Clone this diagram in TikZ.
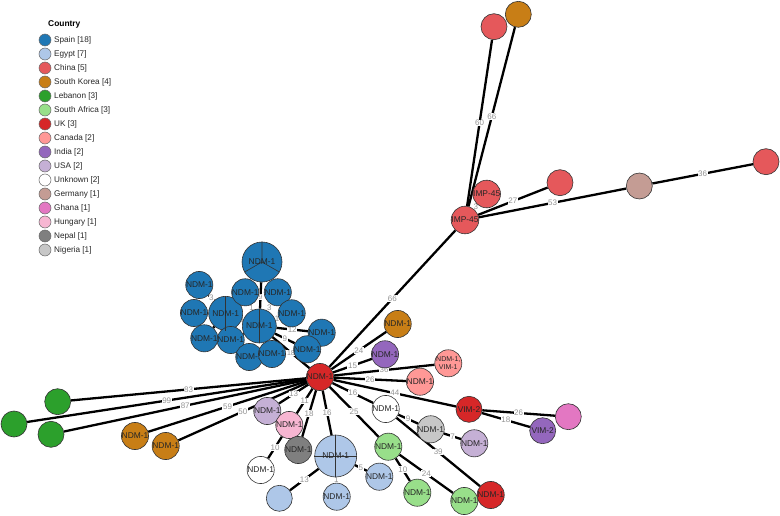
\documentclass[tikz,border=0pt]{standalone}
\usepackage{fontspec}
\setmainfont{Liberation Sans}
\definecolor{spain}{HTML}{1F77B4}
\definecolor{egypt}{HTML}{AEC7E8}
\definecolor{china}{HTML}{E5585B}
\definecolor{korea}{HTML}{C87E16}
\definecolor{lebanon}{HTML}{2CA02C}
\definecolor{safrica}{HTML}{98DF8A}
\definecolor{uk}{HTML}{D62728}
\definecolor{canada}{HTML}{FF9896}
\definecolor{india}{HTML}{9467BD}
\definecolor{usa}{HTML}{C5B0D5}
\definecolor{unknown}{HTML}{FFFFFF}
\definecolor{germany}{HTML}{C49C94}
\definecolor{ghana}{HTML}{E377C2}
\definecolor{hungary}{HTML}{F7B6D2}
\definecolor{nepal}{HTML}{7F7F7F}
\definecolor{nigeria}{HTML}{C7C7C7}
\pgfdeclarelayer{bg}
\pgfsetlayers{bg,main}
\tikzset{
  nd/.style={circle, draw=black!80, line width=0.6pt, minimum size=26pt, inner sep=0pt,
    font=\fontsize{8.4}{9}\selectfont, text=black!85},
  big/.style={minimum size=34pt},
  edg/.style={line width=2.3pt, black},
  lbl/.style={fill=white, inner sep=0.6pt, text=black!42, font=\fontsize{8}{8}\selectfont},
  leg/.style={circle, draw=black!60, line width=0.5pt, minimum size=12pt, inner sep=0pt},
  legtxt/.style={anchor=west, inner sep=0pt, font=\fontsize{8.2}{9}\selectfont, text=black!85},
  spoke/.style={line width=0.6pt, black!80},
  ctxt/.style={inner sep=0pt, font=\fontsize{8.4}{9}\selectfont, text=black!85}
}
\begin{document}
\begin{tikzpicture}[x=1pt,y=-1pt]
\useasboundingbox (0,0) rectangle (780,516);
% legend
\node[anchor=west, inner sep=0pt, font=\bfseries\fontsize{8.4}{9}\selectfont] (legtitle) at (48,24) {Country};
\foreach \c/\t [count=\i from 0] in {spain/Spain [18], egypt/Egypt [7], china/China [5], korea/South Korea [4], lebanon/Lebanon [3], safrica/South Africa [3], uk/UK [3], canada/Canada [2], india/India [2], usa/USA [2], unknown/Unknown [2], germany/Germany [1], ghana/Ghana [1], hungary/Hungary [1], nepal/Nepal [1], nigeria/Nigeria [1]}{
  \node[leg, fill=\c] (lc\i) at (45,{40+14*\i}) {};
  \node[legtxt] (lt\i) at (54,{40+14*\i}) {\t};
}
% centre
\node[nd, fill=uk] (C) at (320,377) {NDM-1};
% blue cluster
\node[nd, fill=spain, minimum size=40pt] (B1) at (262,262) {};
\node[nd, fill=spain] (B2) at (199.3,285) {NDM-1};
\node[nd, fill=spain] (B3) at (194,313) {NDM-1};
\node[nd, fill=spain, big] (B4) at (225.7,313.3) {};
\node[nd, fill=spain] (B5) at (204.3,338.3) {NDM-1};
\node[nd, fill=spain] (B6) at (230.7,340) {NDM-1};
\node[nd, fill=spain] (B7) at (245.2,292.3) {NDM-1};
\node[nd, fill=spain] (B8) at (277.8,292.3) {NDM-1};
\node[nd, fill=spain, big] (B9) at (259.3,326) {};
\node[nd, fill=spain] (B10) at (249.3,357) {NDM-1};
\node[nd, fill=spain] (B11) at (272,354) {NDM-1};
\node[nd, fill=spain] (B12) at (291.7,313.3) {NDM-1};
\node[nd, fill=spain] (B13) at (321.7,332.7) {NDM-1};
\node[nd, fill=spain] (B14) at (307.2,349.3) {NDM-1};
\draw[spoke] (B1.center) -- (B1.90) (B1.center) -- (B1.210) (B1.center) -- (B1.330);
\draw[spoke] (B4.90) -- (B4.270);
\draw[spoke] (B9.90) -- (B9.270);
\node[ctxt] (B1t) at (B1.center) {NDM-1};
\node[ctxt] (B4t) at (B4.center) {NDM-1};
\node[ctxt] (B9t) at (B9.center) {NDM-1};
% other NDM-1 nodes around centre
\node[nd, fill=korea] (K1) at (397.7,324) {NDM-1};
\node[nd, fill=india] (I1) at (385,354.3) {NDM-1};
\node[nd, fill=canada, font=\fontsize{7}{7.5}\selectfont, align=center] (CA1) at (448.3,363.3) {NDM-1,\\VIM-1};
\node[nd, fill=canada] (CA2) at (420,381.7) {NDM-1};
\node[nd, fill=uk] (V2) at (469,409.3) {VIM-2};
\node[nd, fill=ghana] (GH) at (568.3,416.7) {};
\node[nd, fill=india] (I2) at (542.7,430.7) {VIM-2};
\node[nd, fill=unknown] (U1) at (385.7,409) {NDM-1};
\node[nd, fill=nigeria] (NG) at (430.7,429.3) {NDM-1};
\node[nd, fill=usa] (US2) at (474.3,443.3) {NDM-1};
\node[nd, fill=uk] (UK2) at (490.7,495) {NDM-1};
\node[nd, fill=safrica] (SA1) at (388.3,446.7) {NDM-1};
\node[nd, fill=safrica] (SA2) at (417.3,492.7) {NDM-1};
\node[nd, fill=safrica] (SA3) at (464.3,501) {NDM-1};
\node[nd, fill=usa] (US1) at (267.3,411) {NDM-1};
\node[nd, fill=hungary] (HU) at (289.3,425) {NDM-1};
\node[nd, fill=nepal] (NP) at (298.3,450) {NDM-1};
\node[nd, fill=egypt, minimum size=42pt] (E1) at (335.7,456) {};
\draw[spoke] (E1.90) -- (E1.270) (E1.180) -- (E1.0);
\node[ctxt] (E1t) at (E1.center) {NDM-1};
\node[nd, fill=unknown] (U2) at (260.7,470) {NDM-1};
\node[nd, fill=egypt] (E2) at (279.3,498.3) {};
\node[nd, fill=egypt] (E3) at (336.7,496.7) {NDM-1};
\node[nd, fill=egypt] (E4) at (379.3,476.7) {NDM-1};
% left
\node[nd, fill=lebanon] (L1) at (57.7,401.7) {};
\node[nd, fill=lebanon] (L2) at (14,424) {};
\node[nd, fill=lebanon] (L3) at (51,434.3) {};
\node[nd, fill=korea] (K2) at (135,436) {NDM-1};
\node[nd, fill=korea] (K3) at (165.7,446) {NDM-1};
% top right
\node[nd, fill=china] (IM) at (465,220) {IMP-45};
\node[nd, fill=china] (IM2) at (486.7,194) {IMP-45};
\node[nd, fill=china] (CH1) at (494,26.7) {};
\node[nd, fill=korea] (K4) at (518.3,14.3) {};
\node[nd, fill=china] (CH2) at (560,182.7) {};
\node[nd, fill=germany] (DE) at (639.3,186) {};
\node[nd, fill=china] (CH3) at (766,161.7) {};
% edges
\begin{pgfonlayer}{bg}
\draw[edg] (C) -- node[lbl]{83} (L1);
\draw[edg] (C) -- node[lbl]{99} (L2);
\draw[edg] (C) -- node[lbl]{87} (L3);
\draw[edg] (C) -- node[lbl]{59} (K2);
\draw[edg] (C) -- node[lbl]{50} (K3);
\draw[edg] (C) -- node[lbl]{66} (IM);
\draw[edg] (C) -- node[lbl]{24} (K1);
\draw[edg] (C) -- node[lbl]{15} (I1);
\draw[edg] (C) -- node[lbl]{36} (CA1);
\draw[edg] (C) -- node[lbl]{26} (CA2);
\draw[edg] (C) -- node[lbl]{44} (V2);
\draw[edg] (C) -- node[lbl]{16} (U1);
\draw[edg] (C) -- node[lbl]{25} (SA1);
\draw[edg] (C) -- node[lbl]{13} (US1);
\draw[edg] (C) -- node[lbl]{11} (HU);
\draw[edg] (C) -- node[lbl]{18} (NP);
\draw[edg] (C) -- node[lbl]{16} (E1);
\draw[edg] (C) -- node[lbl, pos=0.5, font=\fontsize{7}{7}\selectfont]{18} (B9);
\draw[edg] (B9) -- node[lbl, pos=0.44, font=\fontsize{7}{7}\selectfont]{9} (B1);
\draw[edg] (B4) -- node[lbl]{3} (B2);
\draw[edg] (B4) -- node[lbl]{1} (B3);
\draw[edg] (B4) -- (B5);
\draw[edg] (B9) -- (B6);
\draw[edg] (B9) -- node[lbl]{1} (B7);
\draw[edg] (B9) -- node[lbl]{3} (B8);
\draw[edg] (B9) -- node[lbl]{1} (B4);
\draw[edg] (B9) -- node[lbl]{2} (B10);
\draw[edg] (B9) -- (B11);
\draw[edg] (B9) -- node[lbl]{1} (B12);
\draw[edg] (B9) -- node[lbl]{12} (B13);
\draw[edg] (B9) -- node[lbl]{9} (B14);
\draw[edg] (U1) -- node[lbl]{9} (NG);
\draw[edg] (NG) -- node[lbl]{7} (US2);
\draw[edg] (U1) -- node[lbl]{39} (UK2);
\draw[edg] (SA1) -- node[lbl]{10} (SA2);
\draw[edg] (SA1) -- node[lbl]{24} (SA3);
\draw[edg] (V2) -- node[lbl]{26} (GH);
\draw[edg] (V2) -- node[lbl]{18} (I2);
\draw[edg] (HU) -- node[lbl]{10} (U2);
\draw[edg] (E1) -- node[lbl]{13} (E2);
\draw[edg] (E1) -- node[lbl]{1} (E3);
\draw[edg] (E1) -- node[lbl]{5} (E4);
\draw[edg] (IM) -- node[lbl]{60} (CH1);
\draw[edg] (IM) -- node[lbl]{66} (K4);
\draw[edg] (IM) -- node[lbl]{3} (IM2);
\draw[edg] (IM) -- node[lbl]{27} (CH2);
\draw[edg] (IM) -- node[lbl]{53} (DE);
\draw[edg] (DE) -- node[lbl]{36} (CH3);
\end{pgfonlayer}
\end{tikzpicture}
\end{document}
